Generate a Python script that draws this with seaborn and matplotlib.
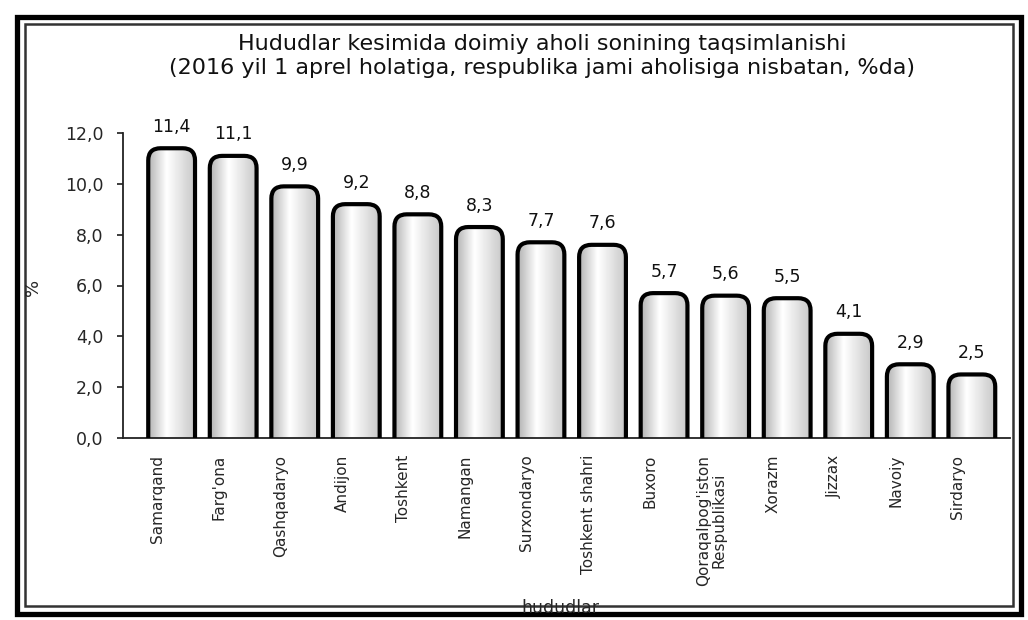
import numpy as np
import pandas as pd
import matplotlib
matplotlib.use("Agg")
import matplotlib.pyplot as plt
import matplotlib.transforms as mtransforms
import seaborn as sns
from matplotlib.patches import FancyBboxPatch, Rectangle

regions = ["Samarqand", "Farg'ona", "Qashqadaryo", "Andijon", "Toshkent",
           "Namangan", "Surxondaryo", "Toshkent shahri", "Buxoro",
           "Qoraqalpog'iston\nRespublikasi", "Xorazm", "Jizzax", "Navoiy", "Sirdaryo"]
shares = [11.4, 11.1, 9.9, 9.2, 8.8, 8.3, 7.7, 7.6, 5.7, 5.6, 5.5, 4.1, 2.9, 2.5]
yticks = [0, 2, 4, 6, 8, 10, 12]

title = ("Hududlar kesimida doimiy aholi sonining taqsimlanishi\n"
         "(2016 yil 1 aprel holatiga, respublika jami aholisiga nisbatan, %da)")

sns.set_theme(style="white")
plt.rcParams['font.family'] = ['DejaVu Sans']

df = pd.DataFrame({"region": regions, "share": shares})

W, H = 1028, 620
fig = plt.figure(figsize=(W/100, H/100), dpi=100)
ax = fig.add_axes([123/W, 1-438/H, (1010-123)/W, (438-133)/H])

sns.barplot(data=df, x="region", y="share", ax=ax, color="white",
            width=0.76, edgecolor="none", linewidth=0)

xlim = (-0.79, 13.62)
ylim = (0, 12)

grad = np.concatenate([np.linspace(0.70, 1.0, 40), np.linspace(1.0, 0.78, 60)])
grad = np.tile(grad, (2, 1))

for p in list(ax.patches):
    x0, w, h = p.get_x(), p.get_width(), p.get_height()
    p.set_visible(False)
    fb = FancyBboxPatch((x0, -0.8), w, h + 0.8,
                        boxstyle="round,pad=0,rounding_size=0.2",
                        mutation_aspect=2.4, facecolor="none",
                        edgecolor="black", linewidth=3.0, zorder=3)
    ax.add_patch(fb)
    im = ax.imshow(grad, extent=[x0, x0 + w, -0.8, h], cmap="gray",
                   vmin=0, vmax=1, aspect="auto", zorder=2,
                   interpolation="bilinear")
    im.set_clip_path(fb)
    ax.annotate(f"{h:.1f}".replace(".", ","), (x0 + w/2, h),
                xytext=(0, 9), textcoords="offset points",
                ha="center", va="bottom", fontsize=12.5, color="#111111")

ax.set_xlim(*xlim)
ax.set_ylim(*ylim)
ax.set_yticks(yticks)
ax.set_yticklabels([f"{v:.1f}".replace(".", ",") for v in yticks], fontsize=12.5)
ax.tick_params(axis="y", length=4, direction="out", left=True, pad=10)
ax.tick_params(axis="x", length=0, pad=12)
ax.set_xticks(range(len(regions)))
ax.set_xticklabels(regions, rotation=90, fontsize=11, ha="center", va="top",
                   linespacing=1.0)
shift = mtransforms.ScaledTranslation(-14/100, 0, fig.dpi_scale_trans)
for lab in ax.get_xticklabels():
    lab.set_transform(lab.get_transform() + shift)
for s in ["top", "right"]:
    ax.spines[s].set_visible(False)
for s in ["left", "bottom"]:
    ax.spines[s].set_color("#222222")
    ax.spines[s].set_linewidth(1.3)

ax.set_xlabel("")
ax.set_ylabel("")
fig.text(560/W, 1-608/H, "hududlar", ha="center", va="center", fontsize=12.5)
fig.text(33/W, 1-287/H, "%", ha="center", va="center", fontsize=13,
         rotation=90)
fig.text(542/W, 1-56/H, title, ha="center", va="center", fontsize=16,
         linespacing=1.2, color="#111111")

# outer double frame
fig.patches.append(Rectangle((16.5/W, 1-614/H), (1021-16.5)/W, (614-16.5)/H,
                             transform=fig.transFigure, fill=False,
                             edgecolor="black", linewidth=3.8))
fig.patches.append(Rectangle((25/W, 1-606/H), (1013-25)/W, (606-24)/H,
                             transform=fig.transFigure, fill=False,
                             edgecolor="#333333", linewidth=1.8))

fig.savefig("out.png", dpi=100, facecolor="white")
